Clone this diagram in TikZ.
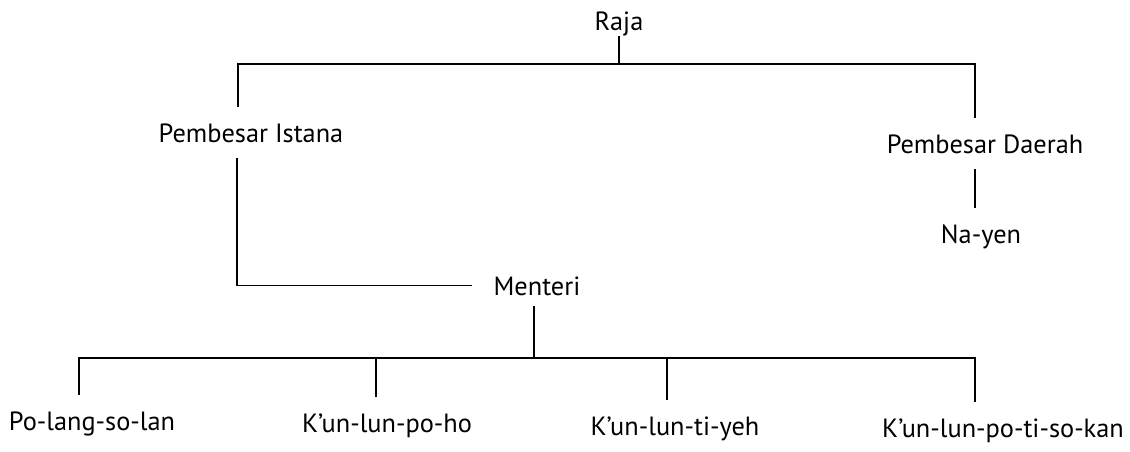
\documentclass[tikz,border=0pt]{standalone}
\usepackage{fontspec}
\setmainfont{PT Sans}
\usetikzlibrary{calc}

\begin{document}
\begin{tikzpicture}[x=0.02cm, y=-0.02cm, line width=0.7pt,
  lbl/.style={font=\fontsize{15}{17}\selectfont, anchor=base, text height=10.5pt, text depth=0pt, inner xsep=12pt, inner ysep=9pt}]
  \useasboundingbox (0,0) rectangle (1130,451);
  \node[lbl, inner ysep=3pt] (raja) at (619,30) {Raja};
  \node[lbl] (istana) at (251,142) {Pembesar Istana};
  \node[lbl] (daerah) at (985,153) {Pembesar Daerah};
  \node[lbl] (nayen) at (981,243) {Na-yen};
  \node[lbl, inner ysep=6pt] (menteri) at (537,295) {Menteri};
  \node[lbl] (polang) at (92,430) {Po-lang-so-lan};
  \node[lbl] (kpoho) at (387,432) {K’un-lun-po-ho};
  \node[lbl] (ktiyeh) at (675,435) {K’un-lun-ti-yeh};
  \node[lbl] (kpotiso) at (1003,437) {K’un-lun-po-ti-so-kan};
  \coordinate (topbar) at (0,64);
  \coordinate (lowbar) at (0,358);
  \draw (raja.south) -- (raja.south |- topbar);
  \draw ([xshift=-0.26cm]istana.north) |- ([xshift=-0.2cm]daerah.north |- topbar) -- ([xshift=-0.2cm]daerah.north);
  \draw ([xshift=-0.2cm]daerah.south) -- ([xshift=-0.2cm]daerah.south |- nayen.north);
  \draw ([xshift=-0.28cm]istana.south) |- (menteri.west);
  \draw ([xshift=-0.06cm]menteri.south) -- ([xshift=-0.06cm]menteri.south |- lowbar);
  \draw ([xshift=-0.26cm]polang.north) |- ([xshift=-0.56cm]kpotiso.north |- lowbar) -- ([xshift=-0.56cm]kpotiso.north);
  \draw ([xshift=-0.22cm]kpoho.north) -- ([xshift=-0.22cm]kpoho.north |- lowbar);
  \draw ([xshift=-0.16cm]ktiyeh.north) -- ([xshift=-0.16cm]ktiyeh.north |- lowbar);
\end{tikzpicture}
\end{document}
